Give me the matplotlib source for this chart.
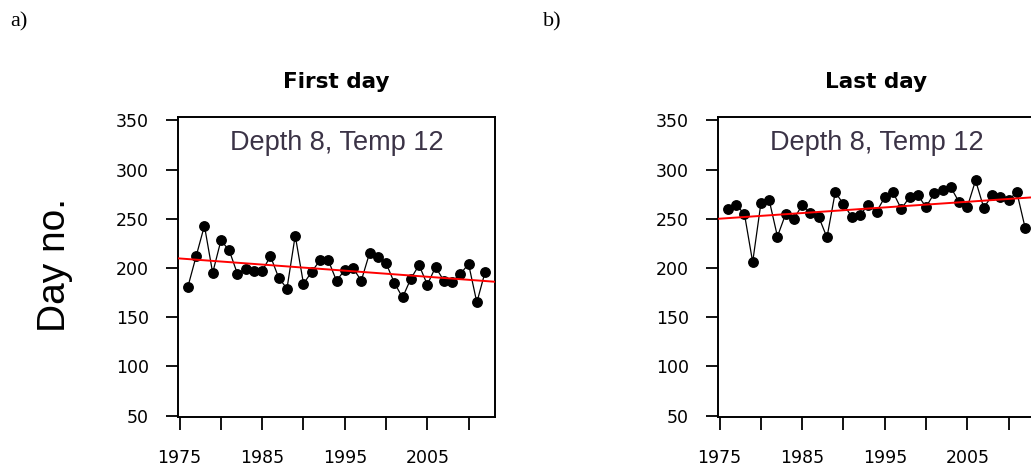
import numpy as np
import matplotlib
matplotlib.use("Agg")
import matplotlib.pyplot as plt

# Years of record and the two day-of-year series
years = np.arange(1976, 2013)

first_day = [181, 212, 243, 195, 228, 218, 194, 199, 197, 197,
             212, 190, 179, 233, 184, 196, 208, 208, 187, 198,
             200, 187, 215, 211, 205, 185, 170, 189, 203, 183,
             201, 187, 186, 194, 204, 165, 196]

last_day = [260, 264, 255, 206, 266, 269, 232, 255, 250, 264,
            256, 252, 231, 277, 265, 252, 254, 264, 257, 272,
            277, 260, 272, 274, 262, 276, 279, 282, 267, 262,
            289, 261, 274, 272, 269, 277, 241]

# Linear trend lines (start/end values at the axis limits)
trend_years = [1974.8, 2013.2]
first_trend = [209.8, 186.0]
last_trend = [250.0, 272.0]

xtick_years = [1975, 1980, 1985, 1990, 1995, 2000, 2005, 2010]
xtick_labels = ['1975', '', '1985', '', '1995', '', '2005', '']
ytick_values = [50, 100, 150, 200, 250, 300, 350]

panel_titles = ['First day', 'Last day']
panel_letters = ['a)', 'b)']
subtitle = 'Depth 8, Temp 12'

W, H = 1031, 473
fig = plt.figure(figsize=(W / 100, H / 100), dpi=100)


def fx(px):
    return px / W


def fy(py):
    return 1 - py / H


def draw_panel(ax, values, trend, title):
    ax.plot(years, values, color='black', lw=0.9, marker='o', ms=6.8,
            mfc='black', mec='black', zorder=3)
    ax.plot(trend_years, trend, color='#ff0000', lw=1.4, zorder=4)
    ax.set_xlim(1974.8, 2013.2)
    ax.set_ylim(48.5, 353.5)
    ax.set_xticks(xtick_years)
    ax.set_xticklabels(xtick_labels)
    ax.set_yticks(ytick_values)
    ax.tick_params(direction='out', length=9, width=1.3, labelsize=12.5,
                   colors='black')
    ax.tick_params(axis='x', pad=14)
    ax.tick_params(axis='y', pad=12)
    for s in ax.spines.values():
        s.set_linewidth(1.4)
    ax.text(0.5, 0.913, subtitle, transform=ax.transAxes, ha='center',
            va='center', fontsize=19.5, color='#3b3346',
            family='Liberation Sans')
    ax.set_title(title, fontsize=15.5, fontweight='bold', pad=21)


plt.rcParams['font.family'] = 'DejaVu Sans'

ax_a = fig.add_axes([fx(178), fy(417), fx(317), 300 / H])
ax_b = fig.add_axes([fx(718), fy(417), fx(317), 300 / H])

draw_panel(ax_a, first_day, first_trend, panel_titles[0])
draw_panel(ax_b, last_day, last_trend, panel_titles[1])

fig.text(fx(55), fy(265), 'Day no.', rotation=90, ha='center', va='center',
         fontsize=28, family='Liberation Sans')
fig.text(fx(10), fy(22), panel_letters[0], ha='left', va='center',
         fontsize=16, family='Liberation Serif')
fig.text(fx(543), fy(22), panel_letters[1], ha='left', va='center',
         fontsize=16, family='Liberation Serif')

fig.savefig('out.png', dpi=100)
